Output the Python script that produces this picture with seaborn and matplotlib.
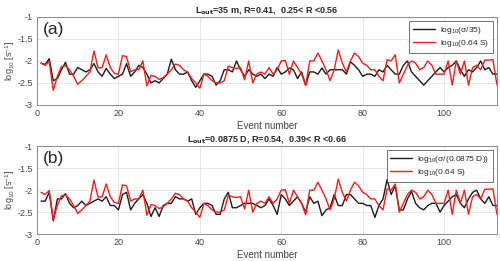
import numpy as np
import pandas as pd
import matplotlib
matplotlib.use("Agg")
import matplotlib.pyplot as plt
import seaborn as sns

# event index 1..113
events = list(range(1, 114))

# log10(0.64 S) - same series in both panels
red_s = [-2.05, -2.10, -2.01, -2.67, -2.35, -2.13, -2.11, -2.20, -2.35, -2.53,
         -2.45, -2.35, -2.25, -1.77, -2.16, -2.15, -1.86, -2.15, -2.28, -2.30,
         -1.88, -1.90, -2.25, -2.20, -2.20, -2.00, -2.57, -2.33, -2.35, -2.42,
         -2.38, -2.30, -2.20, -2.07, -2.10, -2.20, -2.25, -2.40, -2.50, -2.62,
         -2.30, -2.35, -2.45, -2.50, -2.50, -2.45, -2.12, -2.15, -2.17, -2.15,
         -2.43, -2.00, -2.50, -2.30, -2.25, -2.30, -2.15, -2.30, -2.20, -2.00,
         -1.99, -2.30, -2.00, -2.15, -2.30, -2.56, -2.00, -2.00, -1.82, -2.00,
         -2.20, -2.45, -2.20, -1.75, -2.05, -2.25, -2.00, -1.82, -1.90, -2.05,
         -2.10, -2.20, -2.20, -2.35, -2.45, -1.97, -2.00, -1.86, -2.50, -2.30,
         -2.10, -2.00, -2.05, -2.20, -2.15, -2.00, -2.10, -2.30, -2.30, -2.30,
         -2.00, -2.55, -2.00, -2.30, -2.00, -2.55, -2.15, -2.10, -2.20, -1.98,
         -1.98, -1.97, -2.55]

# log10(sigma/35)
black_a = [-2.05, -2.08, -1.95, -2.45, -2.40, -2.20, -2.03, -2.30, -2.30, -2.15,
           -2.20, -2.25, -2.20, -2.06, -2.25, -2.35, -2.17, -2.30, -2.40, -2.35,
           -2.30, -2.06, -2.35, -2.25, -2.10, -2.15, -2.30, -2.50, -2.45, -2.50,
           -2.40, -2.30, -1.96, -2.20, -2.30, -2.30, -2.25, -2.45, -2.60, -2.45,
           -2.30, -2.30, -2.35, -2.55, -2.45, -2.20, -2.20, -2.25, -2.00, -2.20,
           -2.35, -2.20, -2.30, -2.35, -2.30, -2.40, -2.30, -2.35, -2.15, -2.30,
           -2.25, -2.16, -2.20, -2.40, -2.25, -2.55, -2.25, -2.25, -2.30, -2.16,
           -2.30, -2.20, -2.20, -2.20, -2.20, -2.30, -2.02, -2.10, -2.20, -2.35,
           -2.30, -2.30, -2.35, -2.20, -2.25, -2.10, -2.20, -2.30, -2.30, -2.10,
           -2.00, -2.25, -2.35, -2.45, -2.55, -2.45, -2.35, -2.25, -2.15, -2.25,
           -2.15, -2.10, -2.00, -2.20, -2.35, -2.20, -2.25, -2.15, -2.00, -2.20,
           -2.15, -2.30, -2.30]

# log10(sigma/(0.0875 D))
black_b = [-2.25, -2.25, -2.05, -2.70, -2.20, -2.20, -2.08, -2.30, -2.40, -2.35,
           -2.25, -2.35, -2.30, -2.25, -2.20, -2.25, -2.15, -2.35, -2.35, -2.45,
           -2.10, -2.05, -2.45, -2.30, -2.20, -2.10, -2.30, -2.60, -2.40, -2.60,
           -2.35, -2.30, -2.30, -2.15, -2.20, -2.20, -2.25, -2.20, -2.55, -2.40,
           -2.30, -2.30, -2.35, -2.55, -2.55, -2.20, -2.05, -2.40, -2.40, -2.35,
           -2.30, -2.30, -2.30, -2.35, -2.40, -2.35, -2.20, -2.35, -2.55, -2.10,
           -2.20, -2.35, -2.25, -2.15, -2.30, -2.50, -2.15, -2.30, -2.25, -2.58,
           -2.45, -2.40, -2.10, -2.35, -2.35, -2.10, -2.10, -2.20, -2.30, -2.30,
           -2.35, -2.35, -2.62, -2.35, -2.20, -1.76, -2.10, -1.90, -2.45, -2.45,
           -2.20, -2.03, -2.30, -2.40, -2.45, -2.35, -2.30, -2.30, -2.50, -2.35,
           -2.25, -2.15, -2.10, -2.30, -2.40, -2.20, -2.05, -2.00, -2.20, -2.30,
           -2.15, -2.35, -2.35]

titles = [r"L$_{\mathbf{out}}$=35 m, R=0.41,  0.25< R <0.56",
          r"L$_{\mathbf{out}}$=0.0875 D, R=0.54,  0.39< R <0.66"]
panel_tags = ["(a)", "(b)"]
black_labels = [r"log$_{10}$($\sigma$/35)", r"log$_{10}$($\sigma$/(0.0875 D))"]
red_label = r"log$_{10}$(0.64 S)"

sns.set_style("whitegrid")
plt.rcParams['font.family'] = ['Liberation Sans', 'DejaVu Sans']
plt.rcParams['mathtext.default'] = 'regular'

fig = plt.figure(figsize=(5.0, 2.61), dpi=100)
ax_a = fig.add_axes([0.074, 0.598, 0.920, 0.337])
ax_b = fig.add_axes([0.074, 0.103, 0.920, 0.337])

for ax, blk, ttl, tag, blab in zip([ax_a, ax_b], [black_a, black_b], titles,
                                    panel_tags, black_labels):
    df = pd.DataFrame({
        "event": events * 2,
        "value": blk + red_s,
        "series": [blab] * len(events) + [red_label] * len(events),
    })
    sns.lineplot(data=df, x="event", y="value", hue="series",
                 palette={blab: "#1a1a1a", red_label: "#ff1a1a"},
                 linewidth=1.0, ax=ax)
    ax.set_xlim(0, 113)
    ax.set_ylim(-3, -1)
    ax.set_xticks([0, 20, 40, 60, 80, 100])
    ax.set_yticks([-3, -2.5, -2, -1.5, -1])
    ax.set_yticklabels(["-3", "-2.5", "-2", "-1.5", "-1"])
    ax.tick_params(labelsize=6.5, colors="#444444", direction="in", length=2, pad=3)
    ax.grid(True, color="#e3e3e3", linewidth=0.6)
    for sp in ax.spines.values():
        sp.set_color("#8a8a8a")
        sp.set_linewidth(0.7)
    ax.set_xlabel("Event number", fontsize=7, color="#444444", labelpad=2)
    ax.set_ylabel(r"log$_{10}$ [s$^{-1}$]", fontsize=6.5, color="#444444")
    ax.yaxis.set_label_coords(-0.043, 0.5)
    ax.set_title(ttl, fontsize=6.5, fontweight="bold", pad=3)
    ax.text(0.012, 0.94, tag, transform=ax.transAxes, fontsize=12.5,
            va="top", ha="left")
    leg = ax.legend(loc="upper right", fontsize=6, frameon=True, fancybox=False,
                    handlelength=2.6, borderpad=0.45, labelspacing=0.25,
                    borderaxespad=0.5, handletextpad=0.6)
    leg.get_frame().set_edgecolor("#333333")
    leg.get_frame().set_linewidth(0.6)

fig.savefig("out.png", dpi=100)
